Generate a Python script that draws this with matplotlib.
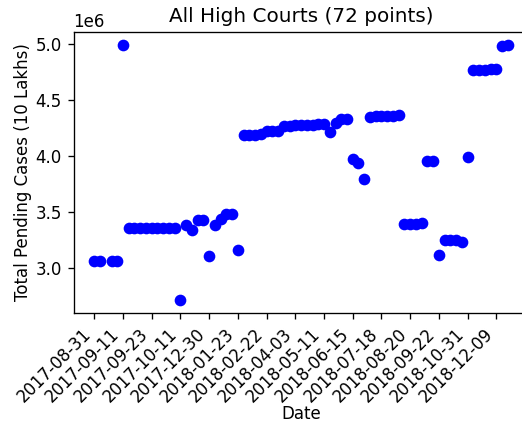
import numpy as np
import matplotlib
matplotlib.use("Agg")
import matplotlib.pyplot as plt

# x positions (index of the date in the series); index 2 has no value
positions = list(range(73))
pending = [
    3.056e6, 3.056e6, np.nan, 3.056e6, 3.056e6, 4.990e6,
    3.356e6, 3.356e6, 3.356e6, 3.356e6, 3.356e6, 3.356e6, 3.356e6, 3.356e6, 3.357e6,
    2.710e6, 3.385e6, 3.334e6, 3.423e6, 3.430e6, 3.103e6, 3.385e6, 3.438e6, 3.482e6,
    3.481e6, 3.157e6,
    4.185e6, 4.185e6, 4.186e6, 4.190e6, 4.220e6, 4.221e6, 4.222e6,
    4.267e6, 4.268e6, 4.270e6, 4.272e6, 4.275e6, 4.277e6, 4.280e6, 4.282e6,
    4.214e6, 4.289e6, 4.325e6, 4.328e6, 3.969e6, 3.939e6, 3.791e6,
    4.347e6, 4.350e6, 4.352e6, 4.355e6, 4.358e6, 4.363e6,
    3.394e6, 3.394e6, 3.394e6, 3.395e6, 3.954e6, 3.954e6,
    3.112e6, 3.245e6, 3.245e6, 3.248e6, 3.231e6, 3.987e6,
    4.767e6, 4.768e6, 4.769e6, 4.770e6, 4.770e6, 4.979e6, 4.988e6,
]
tick_positions = list(range(0, 73, 5))
tick_labels = [
    "2017-08-31", "2017-09-11", "2017-09-23", "2017-10-11", "2017-12-30",
    "2018-01-23", "2018-02-22", "2018-04-03", "2018-05-11", "2018-06-15",
    "2018-07-18", "2018-08-20", "2018-09-22", "2018-10-31", "2018-12-09",
]

fig = plt.figure(figsize=(522 / 120, 428 / 120), dpi=120)
ax = fig.add_axes([73.6 / 522, 115 / 428, (528.5 - 73.6) / 522, 281 / 428])
ax.plot(positions, pending, "bo")
ax.set_xticks(tick_positions)
ax.set_xticklabels(tick_labels, rotation=45, ha="right")
ax.set_xlabel("Date")
ax.set_ylabel("Total Pending Cases (10 Lakhs)")
ax.xaxis.set_label_coords(0.5, -0.326)
ax.yaxis.set_label_coords(-0.0914, 0.5)
ax.set_title("All High Courts (72 points)")
fig.savefig("out.png", dpi=120)
